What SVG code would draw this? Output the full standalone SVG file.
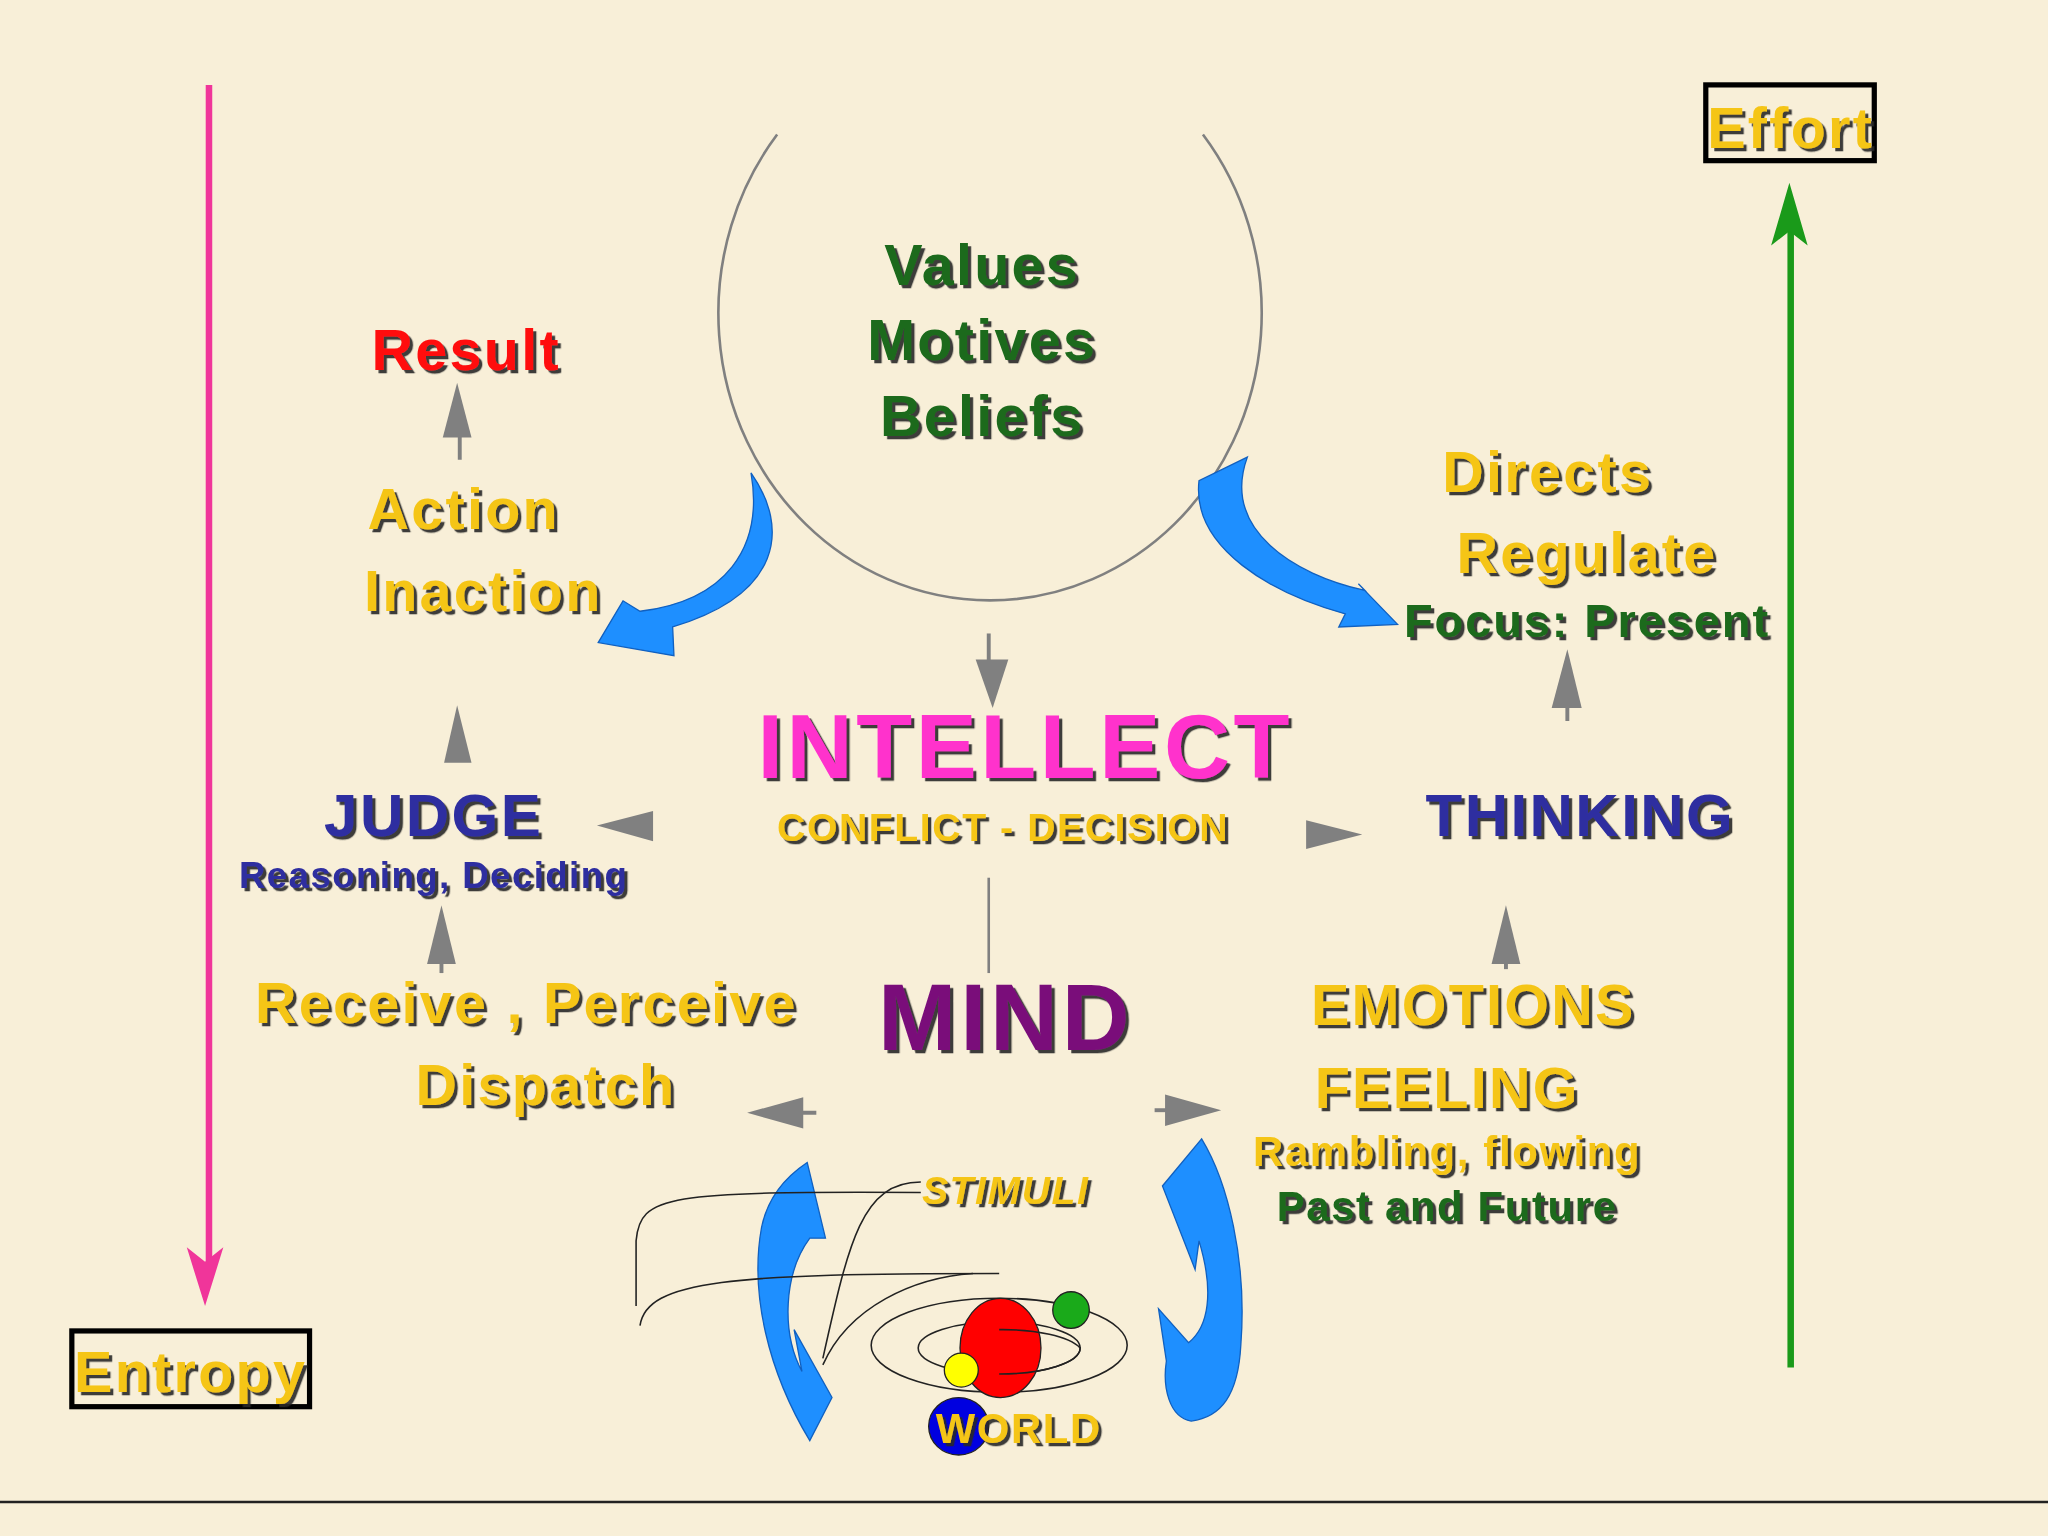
<svg xmlns="http://www.w3.org/2000/svg" width="2048" height="1536" viewBox="0 0 2048 1536">
<defs>
<filter id="sh" x="-10%" y="-20%" width="130%" height="150%"><feDropShadow dx="2.5" dy="2.5" stdDeviation="0.3" flood-color="#2a2a2a" flood-opacity="0.9"/></filter>
</defs>
<style>
text{font-family:"Liberation Sans",Arial,sans-serif;font-weight:bold;text-anchor:middle;filter:url(#sh);letter-spacing:0.04em}
.y{fill:#f5c518}.g{fill:#1a6a1a}.b{fill:#2e2ea0}
.gl{stroke:#808080;stroke-width:3;fill:none}
.gh{fill:#808080}
.bl{fill:#1e8fff;stroke:#1060c0;stroke-width:1}
.thin{fill:none;stroke:#222;stroke-width:1.2}
</style>
<rect width="2048" height="1536" fill="#f8efd8"/>
<g transform="scale(1.30612)">
<g id="connectors">
<line x1="160" y1="65" x2="160" y2="972" stroke="#f0359a" stroke-width="5"/>
<path d="M143,955 L157,1000 L171,955 L157,966 Z" fill="#f0359a"/>
<line x1="1371" y1="1047" x2="1371" y2="170" stroke="#1a9a1a" stroke-width="5"/>
<path d="M1356,188 L1370,140 L1384,188 L1370,177 Z" fill="#1a9a1a"/>
<path d="M595,103 A208,220 0 1 0 921,103" fill="none" stroke="#808080" stroke-width="2"/>
<line class="gl" x1="352" y1="352" x2="352" y2="320"/><path class="gh" d="M339,335 L350,293 L361,335 Z"/>
<line class="gl" x1="1200" y1="552" x2="1200" y2="530"/><path class="gh" d="M1188,542 L1200,497 L1211,542 Z"/>
<line class="gl" x1="757" y1="485" x2="757" y2="510"/><path class="gh" d="M747,505 L760,542 L772,505 Z"/>
<path class="gh" d="M500,621 L457,632 L500,644 Z"/>
<path class="gh" d="M1000,628 L1043,639 L1000,650 Z"/>
<path class="gh" d="M340,584 L350,540 L361,584 Z"/>
<line class="gl" x1="1153" y1="742" x2="1153" y2="720"/><path class="gh" d="M1142,738 L1153,693 L1164,738 Z"/>
<line x1="757" y1="672" x2="757" y2="745" stroke="#808080" stroke-width="2"/>
<line class="gl" x1="338" y1="745" x2="338" y2="725"/><path class="gh" d="M327,738 L338,693 L349,738 Z"/>
<line class="gl" x1="600" y1="852" x2="625" y2="852"/><path class="gh" d="M615,840 L572,852 L615,864 Z"/>
<line class="gl" x1="884" y1="850" x2="900" y2="850"/><path class="gh" d="M892,838 L935,850 L892,862 Z"/>
<path class="bl" d="M575,362 C605,405 598,455 515,480 L516,502 L458,492 L477,460 L490,468 C555,460 585,420 575,362 Z"/>
<path class="bl" d="M955,350 C935,405 990,440 1045,452 L1040,447 L1070,478 L1025,480 L1030,470 C975,455 912,420 918,368 Z"/>
<path class="bl" d="M618,890 L632,948 L620,948 C600,975 598,1020 614,1050 L608,1018 L637,1070 L620,1103 C588,1050 574,990 583,940 C588,915 603,900 618,890 Z"/>
<path class="bl" d="M920,872 C940,905 955,965 950,1030 C948,1068 935,1085 912,1088 C895,1085 890,1062 893,1042 L887,1002 L910,1028 C925,1016 930,990 918,950 L915,972 L890,908 Z"/>
<path class="thin" d="M487,1000 L487,950 C490,915 510,912 705,913"/>
<path class="thin" d="M490,1015 C495,980 560,975 765,975"/>
<path class="thin" d="M630,1040 C650,950 660,905 705,905"/>
<path class="thin" d="M630,1045 C650,1000 700,978 745,975"/>
</g>
<g id="world">
<ellipse cx="765" cy="1030" rx="98" ry="36" fill="none" stroke="#222" stroke-width="1.2"/>
<ellipse cx="765" cy="1032" rx="62" ry="20" fill="none" stroke="#222" stroke-width="1.2"/>
<ellipse cx="766" cy="1032" rx="31" ry="38" fill="#ff0000" stroke="#222"/>
<path d="M765,1018 A62,20 0 0 1 827,1032 A62,20 0 0 1 765,1052" fill="none" stroke="#222" stroke-width="1.2"/>
<circle cx="820" cy="1003" r="14" fill="#1aaa1a" stroke="#222"/>
<circle cx="736" cy="1049" r="13" fill="#ffff00" stroke="#222"/>
<ellipse cx="734" cy="1092" rx="23" ry="22" fill="#0000e0" stroke="#222"/>
<text class="y" x="780" y="1105" font-size="32">WORLD</text>
<text class="y" x="770" y="922" font-size="30" font-style="italic">STIMULI</text>
</g>
<g id="entropy"><rect x="55" y="1019" width="182" height="58" fill="none" stroke="#000" stroke-width="4"/><text class="y" x="146" y="1066" font-size="44">Entropy</text></g>
<g id="effort"><rect x="1306" y="65" width="129" height="58" fill="none" stroke="#000" stroke-width="4"/><text class="y" x="1371" y="113" font-size="44">Effort</text></g>
<g id="values"><text class="g" x="752" y="218" font-size="44">Values</text><text class="g" x="752" y="276" font-size="44">Motives</text><text class="g" x="752" y="334" font-size="44">Beliefs</text></g>
<g id="result"><text x="357" y="283" font-size="44" fill="#ff1010">Result</text></g>
<g id="action"><text class="y" x="355" y="405" font-size="44">Action</text><text class="y" x="370" y="468" font-size="44">Inaction</text></g>
<g id="directs"><text class="y" x="1185" y="377" font-size="44">Directs</text><text class="y" x="1215" y="439" font-size="44">Regulate</text><text class="g" x="1215" y="488" font-size="36">Focus: Present</text></g>
<g id="intellect"><text x="785" y="596" font-size="70" fill="#ff33cc">INTELLECT</text><text class="y" x="768" y="644" font-size="30">CONFLICT - DECISION</text></g>
<g id="judge"><text class="b" x="332" y="640" font-size="46">JUDGE</text><text class="b" x="332" y="680" font-size="28">Reasoning, Deciding</text></g>
<g id="thinking"><text class="b" x="1210" y="640" font-size="46">THINKING</text></g>
<g id="mind"><text x="770" y="804" font-size="72" fill="#7a107a">MIND</text></g>
<g id="receive"><text class="y" x="403" y="783" font-size="44">Receive , Perceive</text><text class="y" x="418" y="846" font-size="44">Dispatch</text></g>
<g id="emotions"><text class="y" x="1128" y="785" font-size="44">EMOTIONS</text><text class="y" x="1108" y="848" font-size="44">FEELING</text><text class="y" x="1108" y="893" font-size="32">Rambling, flowing</text><text class="g" x="1108" y="935" font-size="32">Past and Future</text></g>
<line x1="0" y1="1150" x2="1568" y2="1150" stroke="#222" stroke-width="2"/>
</g>
</svg>
